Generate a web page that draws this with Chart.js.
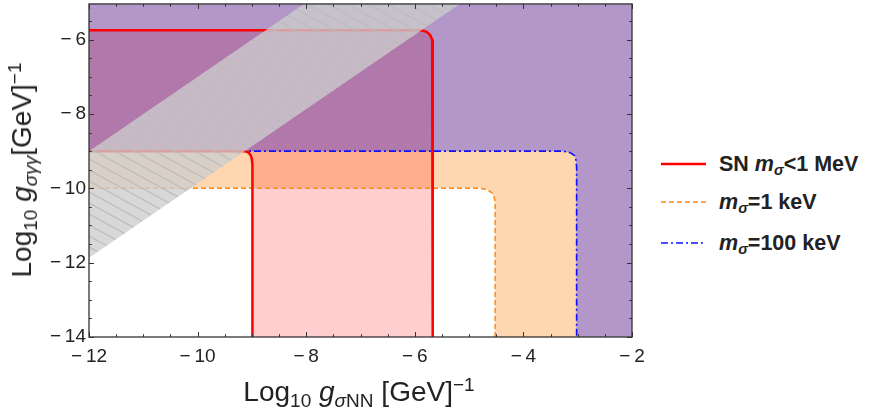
<!DOCTYPE html>
<html>
<head>
<meta charset="utf-8">
<script src="https://cdn.jsdelivr.net/npm/chart.js@4.4.1/dist/chart.umd.min.js"></script>
<style>
  body { margin: 0; background: #fff; width: 872px; height: 412px; overflow: hidden; position: relative;
         font-family: "Liberation Sans", Arial, sans-serif; color: #222; }
  #wrap { position: absolute; left: 0; top: 0; width: 660px; height: 412px; }
  sub, sup { font-size: 68%; line-height: 0; position: relative; vertical-align: baseline; }
  sub { top: 0.3em; }
  sup { top: -0.55em; }
  .xtitle { position: absolute; left: 359px; top: 378px; transform: translateX(-50%); font-size: 28px; line-height: 28px; white-space: nowrap; }
  .ytitle { position: absolute; left: 22px; top: 170px; transform: translate(-50%, -50%) rotate(-90deg); font-size: 28px; line-height: 28px; white-space: nowrap; }
  .leg { position: absolute; left: 661px; font-size: 21.5px; line-height: 22px; font-weight: bold; white-space: nowrap; }
  .leg svg { position: absolute; left: 0; top: 8px; }
  .leg span { position: absolute; left: 58px; top: 0; }
</style>
</head>
<body>
<div id="wrap"><canvas id="myChart" width="660" height="412"></canvas></div>
<div class="xtitle">Log<sub>10</sub> <i>g</i><sub><i>σ</i>NN</sub> [GeV]<sup>−1</sup></div>
<div class="ytitle">Log<sub>10</sub> <i>g</i><sub><i>σγγ</i></sub>[GeV]<sup>−1</sup></div>
<div class="leg" style="top:153px">
  <svg width="46" height="6"><line x1="0" y1="3" x2="45" y2="3" stroke="#ff0000" stroke-width="2.5"/></svg>
  <span>SN <i>m</i><sub><i>σ</i></sub>&lt;1 MeV</span>
</div>
<div class="leg" style="top:191px">
  <svg width="46" height="6"><line x1="0" y1="3" x2="45" y2="3" stroke="#ff8c1a" stroke-width="1.6" stroke-dasharray="5,3"/></svg>
  <span><i>m</i><sub><i>σ</i></sub>=1 keV</span>
</div>
<div class="leg" style="top:232px">
  <svg width="46" height="6"><line x1="0" y1="3" x2="45" y2="3" stroke="#1010ff" stroke-width="1.6" stroke-dasharray="7,3,2,3"/></svg>
  <span><i>m</i><sub><i>σ</i></sub>=100 keV</span>
</div>
<script>
// axis ranges and ticks
const xMin = -12, xMax = -2;
const yMin = -14, yMax = -5.04;
const xMajor = [-12, -10, -8, -6, -4, -2];
const xMinor = [-11.5, -11, -10.5, -9.5, -9, -8.5, -7.5, -7, -6.5, -5.5, -5, -4.5, -3.5, -3, -2.5];
const yMajor = [-14, -12, -10, -8, -6];
const yMinor = [-13.5, -13, -12.5, -11.5, -11, -10.5, -9.5, -9, -8.5, -7.5, -7, -6.5, -5.5];

// m = 100 keV boundary (blue)
const blueX = [-12, -3.27, -3.14, -3.06, -3.03, -3.02, -3.02];
const blueY = [-9, -9, -9.04, -9.12, -9.25, -9.45, -14];

// m = 1 keV boundary (orange)
const orangeX = [-12, -4.8, -4.66, -4.57, -4.53, -4.52, -4.52];
const orangeY = [-10, -10, -10.04, -10.13, -10.28, -10.5, -14];

// SN boundary, outer and inner pieces (red)
const snOuterX = [-12, -5.88, -5.78, -5.72, -5.68, -5.67, -5.67];
const snOuterY = [-5.75, -5.75, -5.79, -5.87, -6.0, -6.2, -14];
const snInnerX = [-12, -9.13, -9.06, -9.02, -9.0, -8.99, -8.99];
const snInnerY = [-9, -9, -9.04, -9.12, -9.22, -9.38, -14];

// hatched band
const bandX = [-12, -7, -4.13, -12];
const bandY = [-9, -4, -4, -11.87];

const pts = (xs, ys) => xs.map((x, i) => ({ x: x, y: ys[i] }));

// corners outside the plot used to close the shaded regions
const outside = [{ x: -2, y: -14 }, { x: -2, y: -4 }, { x: -12, y: -4 }];

const peachPoly = pts(orangeX, orangeY).concat(outside);
const purplePoly = pts(blueX, blueY).concat(outside);
const snTopPoly = pts(snOuterX, snOuterY).filter(p => p.y >= -9)
  .concat([{ x: -5.67, y: -9 }, { x: -12, y: -9 }]);
const snLowPoly = pts(snInnerX, snInnerY).filter(p => p.x > -12)
  .concat([{ x: -5.67, y: -14 }, { x: -5.67, y: -9 }]);

const makeHatch = () => {
  const c = document.createElement("canvas");
  const w = 20, h = 11;
  c.width = w;
  c.height = h;
  const g = c.getContext("2d");
  g.fillStyle = "rgba(205,205,205,0.78)";
  g.fillRect(0, 0, w, h);
  g.strokeStyle = "rgba(188,188,188,0.95)";
  g.lineWidth = 1.2;
  for (const k of [-1, 0, 1]) {
    g.beginPath();
    g.moveTo(k * w, 0);
    g.lineTo(k * w + w, h);
    g.stroke();
  }
  return g.createPattern(c, "repeat");
};

const shape = (data, color) => ({
  data: data, fill: "shape", backgroundColor: color, borderWidth: 0, pointRadius: 0, showLine: true
});
const curve = (data, color, width, dash) => ({
  data: data, fill: false, borderColor: color, borderWidth: width, borderDash: dash || [],
  pointRadius: 0, showLine: true
});

// frame with inward ticks on all four sides
const frameTicks = {
  id: "frameTicks",
  afterDatasetsDraw(chart) {
    const { ctx, chartArea: a, scales: { x, y } } = chart;
    ctx.save();
    ctx.strokeStyle = "#333";
    ctx.lineWidth = 1;
    ctx.beginPath();
    const xTick = (v, len) => {
      const px = Math.round(x.getPixelForValue(v)) + 0.5;
      ctx.moveTo(px, a.bottom); ctx.lineTo(px, a.bottom - len);
      ctx.moveTo(px, a.top); ctx.lineTo(px, a.top + len);
    };
    const yTick = (v, len) => {
      const py = Math.round(y.getPixelForValue(v)) + 0.5;
      ctx.moveTo(a.left, py); ctx.lineTo(a.left + len, py);
      ctx.moveTo(a.right, py); ctx.lineTo(a.right - len, py);
    };
    xMajor.forEach(v => xTick(v, 5));
    xMinor.forEach(v => xTick(v, 2.8));
    yMajor.forEach(v => yTick(v, 5));
    yMinor.forEach(v => yTick(v, 2.8));
    ctx.stroke();
    ctx.lineWidth = 1.3;
    ctx.strokeRect(a.left, a.top, a.right - a.left, a.bottom - a.top);
    ctx.restore();
  }
};

const tickLabel = v => "\u2212\u2009" + Math.abs(v);

const ctx = document.getElementById("myChart").getContext("2d");
const myChart = new Chart(ctx, {
  type: "scatter",
  data: {
    datasets: [
      shape(pts(bandX, bandY), makeHatch()),
      curve(pts(snOuterX, snOuterY), "#ff0000", 2.5),
      curve(pts(snInnerX, snInnerY), "#ff0000", 2.5),
      curve(pts(blueX, blueY), "#1010ff", 1.6, [7, 3, 2, 3]),
      curve(pts(orangeX, orangeY), "#ff8c1a", 1.6, [5, 3]),
      shape(snLowPoly, "rgba(255,0,0,0.19)"),
      shape(snTopPoly, "rgb(177,121,171)"),
      shape(purplePoly, "rgb(178,151,200)"),
      shape(peachPoly, "rgb(254,215,176)"),
    ],
  },
  options: {
    responsive: false,
    animation: false,
    events: [],
    layout: { padding: { top: 1, right: 28, left: 0, bottom: 0 } },
    plugins: { legend: { display: false }, tooltip: { enabled: false } },
    scales: {
      x: {
        type: "linear", min: xMin, max: xMax,
        grid: { display: false, drawTicks: false },
        border: { display: false },
        afterBuildTicks: s => { s.ticks = xMajor.map(v => ({ value: v })); },
        afterFit: s => { s.height = 75; },
        ticks: { padding: 8, color: "#222", font: { family: "'Liberation Sans', Arial", size: 19 }, callback: tickLabel },
      },
      y: {
        type: "linear", min: yMin, max: yMax,
        grid: { display: false, drawTicks: false },
        border: { display: false },
        afterBuildTicks: s => { s.ticks = yMajor.map(v => ({ value: v })); },
        afterFit: s => { s.width = 89; },
        ticks: { padding: 3, color: "#222", font: { family: "'Liberation Sans', Arial", size: 19, lineHeight: 0.1 }, callback: tickLabel },
      },
    },
  },
  plugins: [frameTicks],
});
</script>
</body>
</html>
